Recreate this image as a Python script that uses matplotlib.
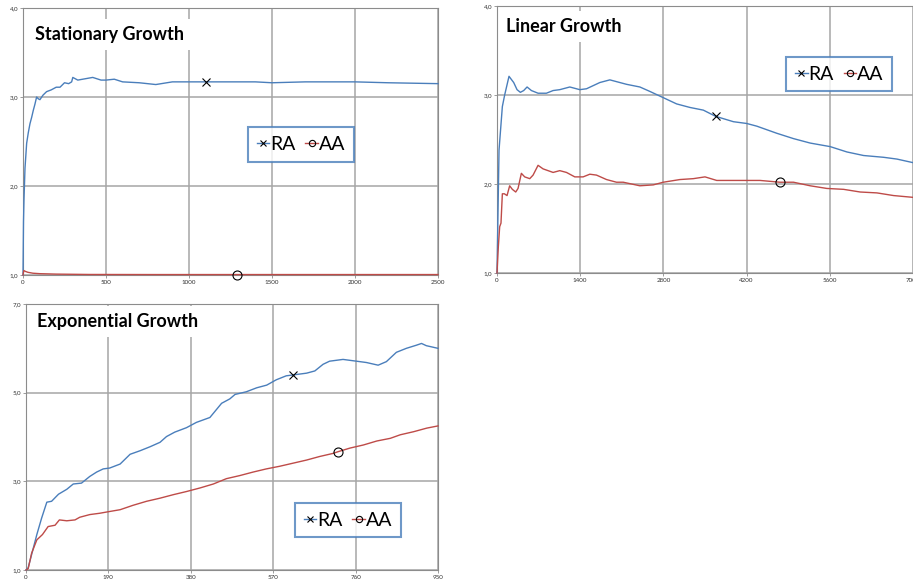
import numpy as np
import matplotlib
matplotlib.use("Agg")
import matplotlib.pyplot as plt
from matplotlib.ticker import FuncFormatter

plt.rcParams['font.family'] = ['Lato', 'DejaVu Sans']

BLUE = '#4a7ebb'
RED = '#be4b48'
GRID = '#a6a6a6'

# --- Stationary Growth ---
st_ra_x = [0, 3, 6, 12, 22, 32, 42, 52, 62, 72, 82, 92, 102, 120, 142, 170, 200, 223, 250, 275, 293, 300,
           330, 360, 420, 470, 500, 550, 600, 700, 800, 900, 1000, 1100, 1200, 1400, 1500, 1700, 2000, 2200, 2500]
st_ra_y = [1.0, 1.6, 1.85, 2.2, 2.48, 2.6, 2.70, 2.77, 2.85, 2.92, 3.0, 2.98, 2.97, 3.02, 3.06, 3.08, 3.11, 3.11, 3.16, 3.15, 3.17, 3.22,
           3.19, 3.20, 3.22, 3.19, 3.19, 3.20, 3.17, 3.16, 3.14, 3.17, 3.17, 3.17, 3.17, 3.17, 3.16, 3.17, 3.17, 3.16, 3.15]
st_aa_x = [0, 5, 15, 30, 60, 100, 200, 400, 800, 1290, 1600, 2000, 2500]
st_aa_y = [1.0, 1.05, 1.04, 1.03, 1.02, 1.015, 1.01, 1.006, 1.005, 1.005, 1.005, 1.005, 1.005]
st_marks = (1100, 1290)

# --- Linear Growth ---
li_ra_x = [0, 34, 90, 129, 202, 281, 337, 393, 449, 506, 579, 691, 831, 944, 1056, 1225, 1393, 1506, 1730, 1899,
           2180, 2404, 2573, 2798, 3022, 3247, 3472, 3680, 3978, 4202, 4371, 4708, 4989, 5270, 5607, 5888, 6169,
           6506, 6730, 7000]
li_ra_y = [1.0, 2.38, 2.87, 3.0, 3.21, 3.14, 3.06, 3.03, 3.05, 3.09, 3.05, 3.02, 3.02, 3.05, 3.06, 3.09, 3.06, 3.07, 3.14, 3.17,
           3.12, 3.09, 3.04, 2.97, 2.90, 2.86, 2.83, 2.76, 2.70, 2.68, 2.65, 2.57, 2.51, 2.46, 2.42, 2.36, 2.32,
           2.30, 2.28, 2.24]
li_aa_x = [0, 22, 45, 67, 90, 124, 169, 213, 258, 315, 354, 410, 466, 551, 607, 691, 775, 944, 1056, 1169, 1309,
           1449, 1562, 1674, 1843, 2011, 2124, 2404, 2629, 2798, 3078, 3303, 3500, 3697, 3978, 4202, 4427, 4760,
           4989, 5270, 5551, 5832, 6112, 6393, 6674, 7000]
li_aa_y = [1.0, 1.29, 1.52, 1.56, 1.89, 1.89, 1.87, 1.98, 1.94, 1.91, 1.95, 2.12, 2.08, 2.06, 2.10, 2.21, 2.17, 2.13, 2.15, 2.13, 2.08,
           2.08, 2.11, 2.10, 2.05, 2.02, 2.02, 1.98, 1.99, 2.02, 2.05, 2.06, 2.08, 2.04, 2.04, 2.04, 2.04, 2.02,
           2.02, 1.98, 1.95, 1.94, 1.91, 1.90, 1.87, 1.85]
li_marks = (3680, 4760)

# --- Exponential Growth ---
ex_ra_x = [0, 5, 13, 25, 36, 48, 59, 75, 94, 109, 128, 147, 163, 178, 193, 217, 240, 263, 286, 309, 324, 343,
           370, 393, 424, 435, 451, 470, 482, 508, 532, 555, 577, 600, 616, 647, 666, 685, 700, 731, 762, 785,
           812, 831, 854, 877, 900, 912, 923, 950]
ex_ra_y = [1.0, 1.05, 1.35, 1.80, 2.17, 2.53, 2.55, 2.71, 2.82, 2.94, 2.96, 3.11, 3.21, 3.28, 3.30, 3.39, 3.61, 3.69, 3.78, 3.88, 4.01, 4.11,
           4.21, 4.33, 4.44, 4.57, 4.76, 4.86, 4.96, 5.02, 5.11, 5.17, 5.29, 5.38, 5.40, 5.44, 5.49, 5.64, 5.71, 5.75, 5.71, 5.68,
           5.62, 5.70, 5.91, 6.00, 6.07, 6.11, 6.06, 6.00]
ex_aa_x = [0, 5, 13, 25, 38, 51, 67, 77, 94, 113, 124, 147, 170, 193, 217, 247, 278, 309, 340, 370, 401, 432,
           462, 493, 524, 554, 585, 616, 647, 677, 708, 720, 747, 778, 809, 840, 863, 894, 924, 950]
ex_aa_y = [1.0, 1.03, 1.38, 1.68, 1.80, 1.98, 2.01, 2.13, 2.11, 2.13, 2.19, 2.25, 2.28, 2.32, 2.36, 2.46, 2.55, 2.62, 2.70, 2.77, 2.85, 2.94,
           3.06, 3.13, 3.21, 3.28, 3.34, 3.41, 3.48, 3.56, 3.63, 3.67, 3.75, 3.82, 3.91, 3.97, 4.05, 4.12, 4.20, 4.25]
ex_marks = (616, 720)

fig = plt.figure(figsize=(9.13, 5.86), dpi=100)
W, H = 913, 586


def make_axes(l, t, r, b):
    return fig.add_axes([l / W, 1 - b / H, (r - l) / W, (b - t) / H])


comma = FuncFormatter(lambda v, p: ('%.1f' % v).replace('.', ','))


def panel(ax, title, title_pos, ra, aa, marks, xmax, xstep, ymax, ystep, leg_anchor):
    idx_ra = int(np.argmin(np.abs(np.array(ra[0]) - marks[0])))
    idx_aa = int(np.argmin(np.abs(np.array(aa[0]) - marks[1])))
    ax.plot(ra[0], ra[1], color=BLUE, lw=1.0, marker='x', markevery=[idx_ra],
            mec='black', mew=0.8, ms=6, label='RA', clip_on=False, zorder=3)
    ax.plot(aa[0], aa[1], color=RED, lw=1.0, marker='o', markevery=[idx_aa],
            mec='black', mfc='none', mew=0.8, ms=6.5, label='AA', clip_on=False, zorder=3)
    ax.set_xlim(0, xmax)
    ax.set_ylim(1, ymax)
    ax.set_xticks(np.arange(0, xmax + 1, xstep))
    ax.set_yticks(np.arange(1, ymax + 0.01, ystep))
    ax.yaxis.set_major_formatter(comma)
    ax.grid(True, color=GRID, lw=1.1)
    ax.set_axisbelow(True)
    for s in ax.spines.values():
        s.set_color('#8c8c8c')
        s.set_linewidth(0.8)
    ax.tick_params(labelsize=4.5, length=2, width=0.6, color='#8c8c8c', pad=1.5, labelcolor='#333333')
    ax.text(title_pos[0], title_pos[1], title, transform=ax.transAxes, fontsize=13, fontweight='bold',
            va='top', ha='left', zorder=5,
            bbox=dict(facecolor='white', edgecolor='none', pad=5))
    leg = ax.legend(loc='upper left', bbox_to_anchor=leg_anchor, borderaxespad=0, ncol=2,
                    fontsize=14, frameon=True, fancybox=False, handlelength=0.65,
                    handletextpad=0.05, columnspacing=0.5, borderpad=0.45)
    for h in leg.legend_handles:
        h.set_markersize(4.5)
    leg.get_frame().set_edgecolor(BLUE)
    leg.get_frame().set_linewidth(1.5)
    leg.set_zorder(6)


ax1 = make_axes(23, 8, 438, 275)
panel(ax1, 'Stationary Growth', (0.028, 0.933), (st_ra_x, st_ra_y), (st_aa_x, st_aa_y), st_marks,
      2500, 500, 4, 1, (0.542, 0.554))

ax2 = make_axes(497, 6, 913, 273)
panel(ax2, 'Linear Growth', (0.021, 0.955), (li_ra_x, li_ra_y), (li_aa_x, li_aa_y), li_marks,
      7000, 1400, 4, 1, (0.695, 0.809))

ax3 = make_axes(26, 304, 438, 570)
panel(ax3, 'Exponential Growth', (0.026, 0.966), (ex_ra_x, ex_ra_y), (ex_aa_x, ex_aa_y), ex_marks,
      950, 190, 7, 2, (0.653, 0.252))

fig.savefig('out.png', dpi=100)
